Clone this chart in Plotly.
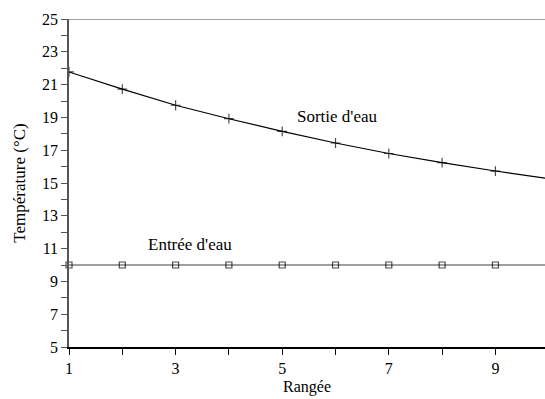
import plotly.graph_objects as go

rangee = [1, 2, 3, 4, 5, 6, 7, 8, 9, 10]
sortie = [21.77, 20.72, 19.74, 18.92, 18.15, 17.44, 16.8, 16.24, 15.73, 15.27]
entree = [10, 10, 10, 10, 10, 10, 10, 10, 10, 10]
marker_sizes = [7, 7, 7, 7, 7, 7, 7, 7, 7, 0]

FONT = "Liberation Serif, Times New Roman, serif"

fig = go.Figure()
fig.add_trace(go.Scatter(
    x=rangee, y=entree, mode="lines+markers",
    line=dict(color="#7f7f7f", width=1.5),
    marker=dict(symbol="square-open", size=[s - 1 if s else 0 for s in marker_sizes],
                color="black", line=dict(width=1.2, color="black")),
    showlegend=False, cliponaxis=False))
fig.add_trace(go.Scatter(
    x=rangee, y=sortie, mode="lines+markers",
    line=dict(color="black", width=1.2),
    marker=dict(symbol="cross-thin", size=marker_sizes,
                line=dict(width=1.2, color="black")),
    showlegend=False))

fig.add_shape(type="line", xref="paper", yref="y", x0=0, x1=1, y0=25, y1=25,
              line=dict(color="#7f7f7f", width=1.5))

fig.add_annotation(x=6.03, y=19.04, text="Sortie d'eau", showarrow=False,
                   font=dict(family=FONT, size=17, color="black"))
fig.add_annotation(x=3.27, y=11.24, text="Entrée d'eau", showarrow=False,
                   font=dict(family=FONT, size=17, color="black"))

fig.update_layout(
    width=545, height=399,
    margin=dict(l=69, r=0, t=19, b=52),
    plot_bgcolor="white", paper_bgcolor="white",
    font=dict(family=FONT, size=16, color="black"),
    xaxis=dict(range=[1, 9.93], tick0=1, dtick=2, showgrid=False, zeroline=False,
               showline=True, linecolor="black", linewidth=1.5,
               ticks="outside", ticklen=6, tickcolor="black",
               minor=dict(dtick=1, tick0=1, ticks="outside", ticklen=6, tickcolor="black"),
               title=dict(text="Rangée", standoff=5, font=dict(size=16)),
               tickfont=dict(size=16)),
    yaxis=dict(range=[5, 25], tick0=5, dtick=2, showgrid=False, zeroline=False,
               showline=True, linecolor="#555555", linewidth=1.5,
               ticks="outside", ticklen=6, tickcolor="#555555",
               minor=dict(dtick=1, tick0=5, ticks="outside", ticklen=6, tickcolor="#555555"),
               title=dict(text="Température (°C)", standoff=12, font=dict(size=17)),
               tickfont=dict(size=16)),
)

fig.write_html("out.html")
